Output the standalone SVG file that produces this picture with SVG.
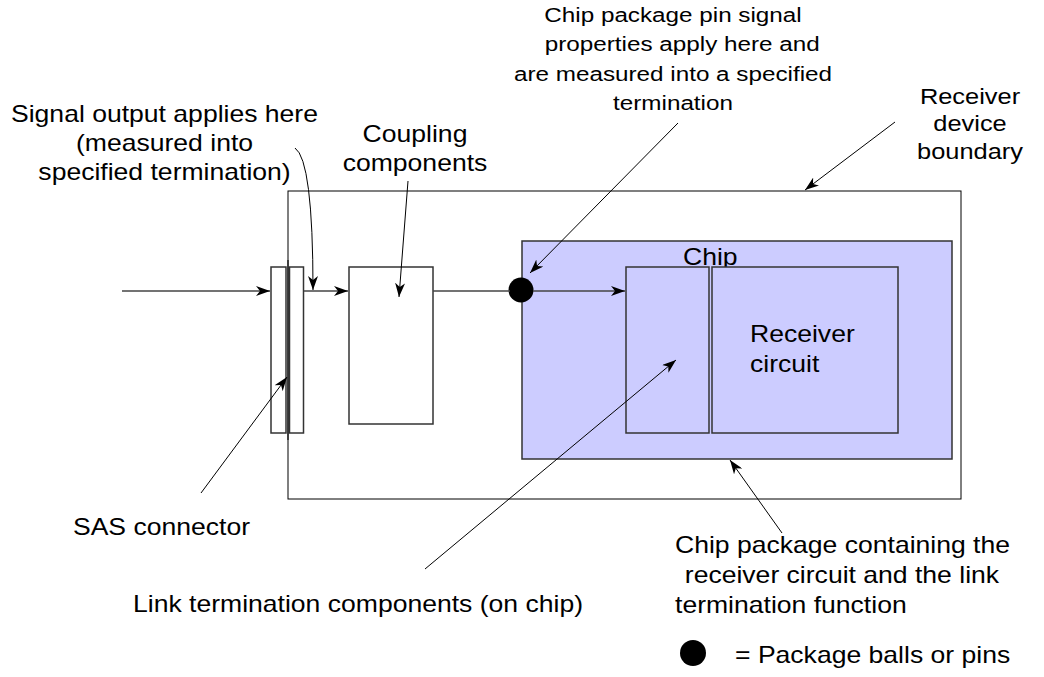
<svg xmlns="http://www.w3.org/2000/svg" width="1044" height="677" viewBox="0 0 1044 677">
  <style>
    .lbl { font-family: "Liberation Sans", Arial, sans-serif; font-size: 23px; fill: #000; }
    .sm { font-size: 21px; }
    .md { font-size: 22px; }
    .box { fill: #fff; stroke: #333; stroke-width: 1.5; }
    .chip { fill: #ccccff; stroke: #333; stroke-width: 1.5; }
    .flow { fill: none; stroke: #444; stroke-width: 1.6; }
    .lead { fill: none; stroke: #000; stroke-width: 1; }
  </style>
  <defs>
    <marker id="arr" viewBox="0 0 14 10" refX="14" refY="5" markerWidth="14" markerHeight="10" markerUnits="userSpaceOnUse" orient="auto">
      <path d="M0,0 L14,5 L0,10 L4,5 z" fill="#000"/>
    </marker>
  </defs>
  <rect width="1044" height="677" fill="#fff"/>

  <!-- receiver device boundary -->
  <g id="device-boundary">
    <rect x="288" y="191" width="673" height="308" fill="none" stroke="#000" stroke-width="1"/>
  </g>

  <!-- SAS connector halves -->
  <g id="sas-connector">
    <rect class="box" x="271" y="267" width="15" height="166"/>
    <rect class="box" x="289.5" y="267" width="14" height="166"/>
    <line x1="288" y1="260" x2="288" y2="440" stroke="#000" stroke-width="1"/>
  </g>

  <!-- coupling components -->
  <g id="coupling">
    <rect class="box" x="349" y="267" width="84" height="157"/>
  </g>

  <!-- chip package -->
  <g id="chip">
    <rect class="chip" x="522" y="241" width="430" height="218"/>
    <text class="lbl" transform="translate(683,265) scale(1.155,1)">Chip</text>
  </g>

  <g id="link-termination">
    <rect class="chip" x="626" y="267" width="83" height="166"/>
  </g>

  <g id="receiver-circuit">
    <rect class="chip" x="712" y="267" width="186" height="166"/>
    <text class="lbl" transform="translate(750,342) scale(1.155,1)"><tspan x="0" y="0">Receiver</tspan><tspan x="0" y="30">circuit</tspan></text>
  </g>

  <g id="package-pin">
    <circle cx="521" cy="290" r="12.5" fill="#000"/>
  </g>

  <!-- connectors -->
  <g id="connectors">
    <line class="flow" x1="122" y1="291" x2="270" y2="291" marker-end="url(#arr)"/>
    <line class="flow" x1="304" y1="291" x2="348" y2="291" marker-end="url(#arr)"/>
    <line class="flow" x1="433" y1="291" x2="510" y2="291"/>
    <line class="flow" x1="533" y1="291" x2="625" y2="291" marker-end="url(#arr)"/>

    <path class="lead" d="M295,148 Q313,160 313,290" marker-end="url(#arr)"/>
    <line class="lead" x1="408" y1="181" x2="399" y2="297" marker-end="url(#arr)"/>
    <line class="lead" x1="678" y1="123" x2="530" y2="273" marker-end="url(#arr)"/>
    <line class="lead" x1="895" y1="122" x2="805" y2="190" marker-end="url(#arr)"/>
    <line class="lead" x1="201" y1="493" x2="287" y2="377" marker-end="url(#arr)"/>
    <line class="lead" x1="425" y1="569" x2="676" y2="360" marker-end="url(#arr)"/>
    <line class="lead" x1="782" y1="533" x2="730" y2="460" marker-end="url(#arr)"/>
  </g>

  <!-- callout labels -->
  <g id="label-signal-output">
    <text class="lbl" text-anchor="middle" transform="translate(164.5,122) scale(1.155,1)"><tspan x="0" y="0">Signal output applies here</tspan><tspan x="0" y="29">(measured into</tspan><tspan x="0" y="58">specified termination)</tspan></text>
  </g>

  <g id="label-coupling">
    <text class="lbl" text-anchor="middle" transform="translate(415,142) scale(1.155,1)"><tspan x="0" y="0">Coupling</tspan><tspan x="0" y="29">components</tspan></text>
  </g>

  <g id="label-pin-signal">
    <text class="lbl sm" text-anchor="middle" transform="translate(673,22) scale(1.155,1)"><tspan x="0" y="0">Chip package pin signal</tspan><tspan x="8" y="29.5">properties apply here and</tspan><tspan x="0" y="59">are measured into a specified</tspan><tspan x="0" y="88.5">termination</tspan></text>
  </g>

  <g id="label-device-boundary">
    <text class="lbl md" text-anchor="middle" transform="translate(970,104) scale(1.155,1)"><tspan x="0" y="0">Receiver</tspan><tspan x="0" y="27.5">device</tspan><tspan x="0" y="55">boundary</tspan></text>
  </g>

  <g id="label-sas">
    <text class="lbl" text-anchor="middle" transform="translate(161.5,535) scale(1.155,1)">SAS connector</text>
  </g>

  <g id="label-link-termination">
    <text class="lbl" transform="translate(133,612) scale(1.155,1)">Link termination components (on chip)</text>
  </g>

  <g id="label-chip-package">
    <text class="lbl" transform="translate(675,553) scale(1.155,1)"><tspan x="0" y="0">Chip package containing the</tspan><tspan x="8.5" y="30">receiver circuit and the link</tspan><tspan x="0" y="60">termination function</tspan></text>
  </g>

  <!-- legend -->
  <g id="legend">
    <circle cx="693" cy="653" r="13" fill="#000"/>
    <text class="lbl" transform="translate(735,663) scale(1.155,1)">= Package balls or pins</text>
  </g>
</svg>
